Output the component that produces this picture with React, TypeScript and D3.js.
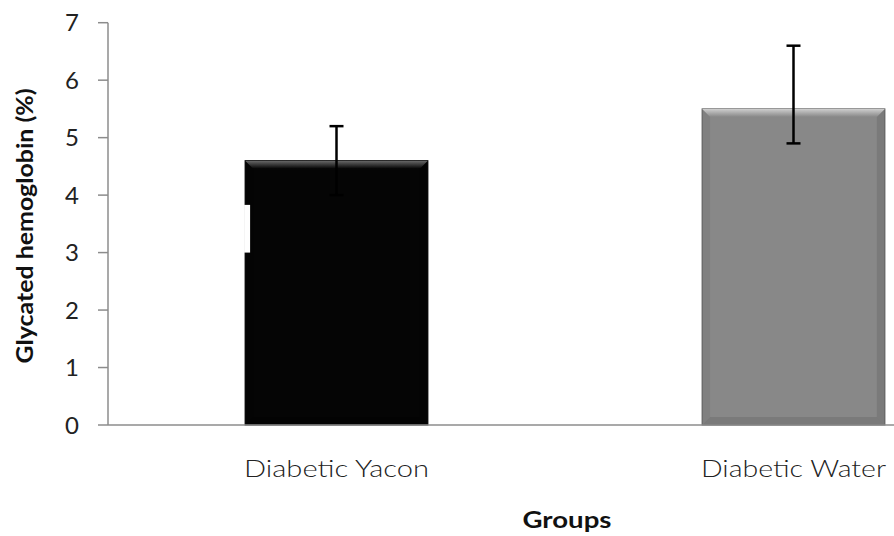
import React from "react";
import * as d3 from "d3";

const categories = ["Diabetic Yacon", "Diabetic Water"];
const values = [4.6, 5.5];
const errUpper = [5.2, 6.6];
const errLower = [4.0, 4.9];
const barColors = ["#050505", "#888888"];
const barEdge = ["#000000", "#5a5a5a"];
const barHighlight = ["#6a6a6a", "#cfcfcf"];
const yTicks = [0, 1, 2, 3, 4, 5, 6, 7];

const W = 894;
const H = 536;
const axisX = 108;
const y0 = 425;
const yTop = 22.7;

export default function App() {
  const y = d3.scaleLinear().domain([0, 7]).range([y0, yTop]);
  const x = d3
    .scaleBand<string>()
    .domain(categories)
    .range([axisX, axisX + 914])
    .paddingInner(0.6)
    .paddingOuter(0.3);
  const bw = x.bandwidth();
  const bevel = 8;
  const font = "Lato, 'Open Sans', sans-serif";

  return (
    <svg width={W} height={H} style={{ position: "absolute", left: 0, top: 0, background: "#fff" }}>
      <defs>
        {categories.map((c, i) => (
          <linearGradient key={c} id={`topg${i}`} x1="0" y1="0" x2="0" y2="1">
            <stop offset="0" stopColor={barHighlight[i]} />
            <stop offset="1" stopColor={barColors[i]} />
          </linearGradient>
        ))}
      </defs>
      {/* y axis */}
      <line x1={axisX} x2={axisX} y1={yTop} y2={y0} stroke="#8c8c8c" strokeWidth={1.5} />
      {yTicks.map((t) => (
        <g key={t}>
          <line x1={axisX - 10} x2={axisX} y1={y(t)} y2={y(t)} stroke="#8c8c8c" strokeWidth={1.5} />
          <text
            x={79}
            y={y(t)}
            dy="0.36em"
            textAnchor="end"
            fontFamily={font}
            fontSize={24}
            fill="#222"
          >
            {t}
          </text>
        </g>
      ))}
      {/* bars */}
      {categories.map((c, i) => {
        const bx = x(c)!;
        const by = y(values[i]);
        const bh = y0 - by;
        return (
          <g key={c}>
            <rect x={bx} y={by} width={bw} height={bh} fill={barColors[i]} stroke={barEdge[i]} strokeWidth={1} />
            <polygon
              points={`${bx},${by} ${bx + bw},${by} ${bx + bw - bevel},${by + bevel} ${bx + bevel},${by + bevel}`}
              fill={`url(#topg${i})`}
            />
            <polygon
              points={`${bx},${by} ${bx + bevel},${by + bevel} ${bx + bevel},${y0 - bevel} ${bx},${y0}`}
              fill={barEdge[i]}
              opacity={0.15}
            />
            <polygon
              points={`${bx + bw},${by} ${bx + bw - bevel},${by + bevel} ${bx + bw - bevel},${y0 - bevel} ${bx + bw},${y0}`}
              fill={barEdge[i]}
              opacity={0.3}
            />
            <polygon
              points={`${bx},${y0} ${bx + bevel},${y0 - bevel} ${bx + bw - bevel},${y0 - bevel} ${bx + bw},${y0}`}
              fill={barEdge[i]}
              opacity={0.3}
            />
          </g>
        );
      })}
      {/* white artifact on first bar */}
      <rect x={x(categories[0])! - 1} y={y(3.83)} width={6} height={y(3.0) - y(3.83)} fill="#fff" />
      {/* error bars */}
      {categories.map((c, i) => {
        const cx = x(c)! + bw / 2;
        return (
          <g key={c} stroke="#000" strokeWidth={2.5}>
            <line x1={cx} x2={cx} y1={y(errUpper[i])} y2={y(errLower[i])} />
            <line x1={cx - 7} x2={cx + 7} y1={y(errUpper[i])} y2={y(errUpper[i])} />
            <line x1={cx - 7} x2={cx + 7} y1={y(errLower[i])} y2={y(errLower[i])} />
          </g>
        );
      })}
      {/* x axis */}
      <line x1={axisX} x2={W} y1={y0} y2={y0} stroke="#8c8c8c" strokeWidth={1.5} />
      {categories.map((c) => (
        <text
          key={c}
          x={x(c)! + bw / 2}
          y={477}
          textAnchor="middle"
          fontFamily={font}
          fontSize={24}
          fontWeight={300}
          textLength={185}
          lengthAdjust="spacingAndGlyphs"
          fill="#222"
        >
          {c}
        </text>
      ))}
      <text
        x={567}
        y={528}
        textAnchor="middle"
        fontFamily={font}
        fontSize={23}
        fontWeight="bold"
        textLength={89}
        lengthAdjust="spacingAndGlyphs"
        fill="#111"
      >
        Groups
      </text>
      <text
        transform={`translate(33,226) rotate(-90)`}
        textAnchor="middle"
        fontFamily={font}
        fontSize={22}
        fontWeight="bold"
        textLength={275}
        lengthAdjust="spacingAndGlyphs"
        fill="#111"
      >
        Glycated hemoglobin (%)
      </text>
    </svg>
  );
}
